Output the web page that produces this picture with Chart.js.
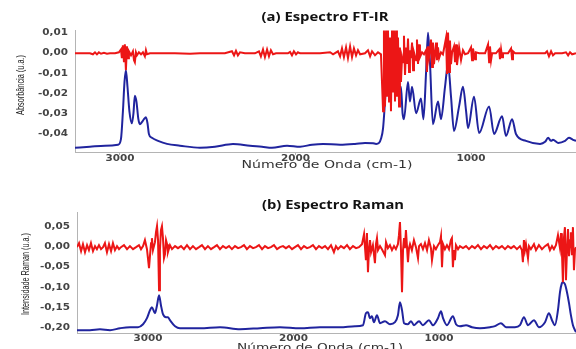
<!DOCTYPE html>
<html>
<head>
<meta charset="utf-8">
<script src="https://cdn.jsdelivr.net/npm/chart.js@4.4.0/dist/chart.umd.min.js"></script>
<style>
  body { margin: 0; background: #fff; }
  #wrap { position: relative; width: 576px; height: 349px; overflow: hidden; background: #fff; }
  #irChart { position: absolute; left: 0; top: 0; }
  #ramanChart { position: absolute; left: 0; top: 175px; }
</style>
</head>
<body>
<div id="wrap">
  <canvas id="irChart" width="576" height="175"></canvas>
  <canvas id="ramanChart" width="576" height="174"></canvas>
</div>
<script>
// tick labels
const irTicksX = [3000, 2000, 1000];
const irTicksY = [0.01, 0, -0.01, -0.02, -0.03, -0.04];
const ramanTicksX = [3000, 2000, 1000];
const ramanTicksY = [0.05, 0, -0.05, -0.10, -0.15, -0.20];

// FT-IR absorbance, [wavenumber, value]
const irAbsorbance = [
  [3256,-0.0466],[3171,-0.0461],[3085,-0.0456],[3011,-0.0451],[2994,-0.0422],[2983,-0.0286],
  [2974,-0.0141],[2966,-0.0083],[2957,-0.0165],[2946,-0.0286],[2932,-0.0345],[2923,-0.0296],
  [2915,-0.0209],[2906,-0.0238],[2895,-0.0325],[2886,-0.0350],[2875,-0.0340],[2863,-0.0325],
  [2852,-0.0316],[2843,-0.0345],[2835,-0.0398],[2818,-0.0417],[2783,-0.0432],[2732,-0.0447],
  [2658,-0.0456],[2544,-0.0466],[2459,-0.0461],[2356,-0.0447],[2259,-0.0456],[2191,-0.0461],
  [2134,-0.0466],[2048,-0.0456],[1974,-0.0461],[1906,-0.0451],[1843,-0.0447],[1746,-0.0451],
  [1661,-0.0447],[1604,-0.0442],[1558,-0.0444],[1541,-0.0447],[1524,-0.0442],[1513,-0.0422],
  [1501,-0.0369],[1490,-0.0238],[1479,-0.0092],[1467,-0.0150],[1456,-0.0053],[1444,-0.0117],
  [1433,-0.0019],[1422,-0.0131],[1410,-0.0199],[1399,-0.0165],[1390,-0.0296],[1382,-0.0325],
  [1359,-0.0141],[1348,-0.0238],[1336,-0.0165],[1313,-0.0296],[1285,-0.0223],[1271,-0.0325],
  [1256,-0.0092],[1245,0.0102],[1234,-0.0044],[1217,-0.0350],[1188,-0.0238],[1171,-0.0325],
  [1148,-0.0165],[1131,-0.0053],[1114,-0.0214],[1097,-0.0383],[1068,-0.0262],[1046,-0.0165],
  [1028,-0.0286],[1017,-0.0369],[983,-0.0214],[954,-0.0393],[897,-0.0262],[869,-0.0398],
  [823,-0.0311],[801,-0.0408],[766,-0.0325],[744,-0.0398],[687,-0.0432],[607,-0.0447],
  [578,-0.0437],[561,-0.0417],[544,-0.0432],[533,-0.0427],[504,-0.0442],[464,-0.0432],
  [442,-0.0417],[419,-0.0427],[402,-0.0432]
];

// FT-IR derivative
const irDerivative = [
  [3256,0],[3171,0],[3154,-0.0005],[3142,0.0005],[3131,-0.0005],[3120,0.0005],[3108,-0.0002],
  [3091,0.0002],[3074,-0.0002],[3057,0],[3028,0],[3006,0.0005],[2994,0.0019],[2989,-0.0024],
  [2983,0.0039],[2977,-0.0044],[2972,0.0044],[2966,-0.0083],[2960,0.0034],[2954,-0.0024],
  [2949,0.0010],[2937,-0.0010],[2926,0.0010],[2920,-0.0034],[2915,-0.0044],[2909,0.0005],
  [2903,-0.0010],[2892,0.0005],[2880,-0.0005],[2869,0.0005],[2858,-0.0015],[2852,0.0015],
  [2846,-0.0005],[2829,0],[2772,0],[2687,0],[2601,-0.0002],[2544,0],[2402,0],[2362,0.0010],
  [2350,-0.0010],[2339,0.0012],[2328,-0.0010],[2316,0.0005],[2288,0],[2231,0],[2208,0.0010],
  [2197,-0.0015],[2185,0.0019],[2174,-0.0019],[2162,0.0019],[2151,-0.0015],[2140,0.0015],
  [2128,-0.0005],[2111,0],[2043,0],[2031,0.0007],[2020,-0.0010],[2009,0.0010],[1997,-0.0005],
  [1986,0.0005],[1974,0],[1860,0],[1803,0.0005],[1786,-0.0005],[1758,0.0010],[1746,-0.0015],
  [1735,0.0024],[1724,-0.0019],[1712,0.0029],[1701,-0.0024],[1689,0.0034],[1678,-0.0019],
  [1667,0.0024],[1655,-0.0010],[1644,0.0015],[1632,-0.0005],[1604,0],[1587,0.0015],
  [1575,-0.0015],[1564,0.0010],[1547,-0.0010],[1530,0.0005],[1513,-0.0005],[1501,-0.0286],
  [1496,0.0112],[1490,-0.0262],[1484,0.0112],[1479,-0.0214],[1473,0.0112],[1467,-0.0238],
  [1462,0.0078],[1456,-0.0286],[1450,0.0112],[1444,-0.0189],[1439,0.0112],[1433,-0.0238],
  [1427,0.0112],[1422,-0.0214],[1416,0.0078],[1410,-0.0262],[1405,0.0029],[1399,-0.0141],
  [1393,-0.0019],[1387,-0.0044],[1382,0.0087],[1376,-0.0107],[1370,0.0029],[1365,-0.0053],
  [1359,0.0073],[1353,-0.0092],[1348,0.0015],[1342,-0.0024],[1336,0.0053],[1330,-0.0083],
  [1325,0.0005],[1313,-0.0034],[1308,0.0068],[1302,-0.0053],[1296,0.0044],[1291,-0.0019],
  [1279,0.0005],[1268,-0.0005],[1256,0.0015],[1251,-0.0092],[1245,0.0034],[1239,-0.0019],
  [1228,0.0068],[1222,-0.0068],[1217,0.0053],[1211,-0.0053],[1199,0.0053],[1194,-0.0034],
  [1188,0.0029],[1182,-0.0024],[1171,0.0005],[1160,-0.0005],[1142,0.0078],[1137,-0.0102],
  [1131,0.0102],[1125,-0.0092],[1120,0.0063],[1114,-0.0053],[1108,0.0005],[1097,0.0034],
  [1091,-0.0044],[1085,0.0044],[1080,-0.0058],[1068,0.0029],[1057,-0.0034],[1046,0.0015],
  [1034,-0.0005],[1017,0],[1000,0.0029],[994,-0.0034],[989,0.0024],[977,-0.0029],[972,0.0005],
  [954,0],[920,0],[903,0.0044],[897,-0.0044],[892,0.0034],[886,-0.0034],[880,0],[858,0],
  [840,0.0019],[835,-0.0029],[829,0.0019],[823,-0.0019],[818,0],[789,0],[772,0.0024],
  [766,-0.0029],[761,0.0010],[749,0],[664,0],[578,0],[567,0.0010],[556,-0.0015],[544,0.0010],
  [533,-0.0010],[521,0],[481,0],[459,0.0005],[447,-0.0010],[436,0.0005],[424,-0.0005],[402,0]
];

// Raman intensity
const ramanIntensity = [
  [3488,-0.2054],[3399,-0.2054],[3330,-0.2030],[3261,-0.2054],[3192,-0.2005],[3124,-0.1980],
  [3069,-0.1980],[3034,-0.1906],[3007,-0.1757],[2986,-0.1559],[2973,-0.1485],[2952,-0.1634],
  [2938,-0.1436],[2924,-0.1188],[2911,-0.1436],[2897,-0.1658],[2876,-0.1733],[2863,-0.1733],
  [2849,-0.1807],[2814,-0.1955],[2780,-0.2005],[2643,-0.2005],[2505,-0.1980],[2368,-0.2030],
  [2230,-0.2005],[2093,-0.1980],[1955,-0.2005],[1818,-0.1980],[1680,-0.1980],[1577,-0.1955],
  [1522,-0.1931],[1502,-0.1634],[1488,-0.1609],[1474,-0.1757],[1461,-0.1708],[1447,-0.1856],
  [1426,-0.1683],[1405,-0.1881],[1371,-0.1831],[1337,-0.1906],[1302,-0.1856],[1282,-0.1683],
  [1268,-0.1361],[1254,-0.1559],[1240,-0.1881],[1213,-0.1906],[1192,-0.1831],[1172,-0.1931],
  [1137,-0.1831],[1110,-0.1931],[1069,-0.1807],[1041,-0.1931],[1007,-0.1757],[986,-0.1584],
  [972,-0.1757],[945,-0.1931],[904,-0.1708],[883,-0.1906],[856,-0.1955],[814,-0.1931],
  [773,-0.1980],[718,-0.2005],[649,-0.1980],[615,-0.1955],[574,-0.1881],[539,-0.1980],
  [478,-0.1980],[443,-0.1931],[416,-0.1733],[388,-0.1931],[347,-0.1807],[313,-0.1980],
  [271,-0.1856],[244,-0.1634],[223,-0.1807],[203,-0.1931],[182,-0.1559],[168,-0.1114],
  [155,-0.0891],[148,-0.0866],[134,-0.0916],[120,-0.1114],[106,-0.1386],[93,-0.1683],
  [79,-0.1931],[58,-0.2104]
];

// Raman derivative
const ramanDerivative = [
  [3488,0],[3474,0.0099],[3460,-0.0099],[3447,0.0074],[3433,-0.0124],[3419,0.0050],[3406,-0.0074],
  [3392,0.0099],[3378,-0.0099],[3364,0.0025],[3351,-0.0050],[3337,0.0050],[3323,-0.0050],[3309,0],
  [3296,0.0099],[3282,-0.0124],[3268,0.0074],[3254,-0.0099],[3241,0.0099],[3227,-0.0074],
  [3213,0.0025],[3199,-0.0050],[3186,0],[3165,0.0050],[3144,-0.0050],[3124,0.0025],[3103,-0.0050],
  [3082,0],[3062,0.0050],[3048,-0.0050],[3034,0.0025],[3021,0.0173],[3007,-0.0050],[2993,-0.0520],
  [2986,-0.0198],[2979,0.0099],[2973,0.0223],[2966,-0.0074],[2952,0.0124],[2945,0.0371],
  [2938,0.0520],[2931,0.0173],[2924,-0.1064],[2918,-0.0074],[2911,0.0421],[2904,0.0520],
  [2897,0.0223],[2890,-0.0272],[2883,-0.0173],[2876,0.0173],[2869,0.0074],[2863,-0.0124],
  [2849,0.0050],[2835,-0.0050],[2814,0.0025],[2794,-0.0025],[2773,0.0025],[2753,-0.0050],
  [2732,0.0050],[2711,-0.0050],[2691,0.0025],[2670,-0.0050],[2649,0],[2629,0.0050],[2608,-0.0050],
  [2588,0.0025],[2567,-0.0050],[2546,0],[2526,0.0050],[2505,-0.0050],[2485,0.0025],[2464,-0.0025],
  [2443,0.0025],[2423,-0.0050],[2402,0.0025],[2381,-0.0025],[2361,0],[2340,0.0050],[2320,-0.0050],
  [2299,0.0025],[2278,-0.0025],[2258,0],[2237,0.0050],[2216,-0.0050],[2196,0.0025],[2175,-0.0025],
  [2155,0],[2134,0.0050],[2113,-0.0050],[2093,0],[2072,0.0025],[2052,-0.0025],[2031,0.0025],
  [2010,-0.0050],[1990,0],[1969,0.0050],[1948,-0.0050],[1928,0.0025],[1907,-0.0025],[1887,0],
  [1866,0.0050],[1845,-0.0050],[1825,0.0025],[1804,-0.0025],[1783,0.0025],[1763,-0.0050],
  [1742,0.0050],[1722,-0.0124],[1708,0.0025],[1694,-0.0050],[1674,0.0025],[1653,-0.0025],
  [1632,0.0050],[1612,-0.0050],[1591,0.0025],[1570,-0.0025],[1550,0],[1529,0.0074],[1515,0.0322],
  [1502,-0.0322],[1495,0.0347],[1488,-0.0619],[1481,-0.0074],[1474,0.0173],[1467,-0.0124],
  [1454,0.0050],[1440,-0.0396],[1433,0.0074],[1426,0.0223],[1419,-0.0074],[1405,0.0025],
  [1392,-0.0050],[1371,-0.0198],[1364,0.0124],[1351,-0.0025],[1337,0.0050],[1323,-0.0074],
  [1309,0.0025],[1296,-0.0050],[1282,0.0074],[1275,0.0297],[1268,0.0619],[1261,-0.0074],
  [1254,-0.1114],[1247,-0.0074],[1240,0.0223],[1234,-0.0025],[1227,0.0421],[1220,0.0025],
  [1213,-0.0371],[1206,-0.0025],[1199,0.0074],[1186,-0.0074],[1172,0.0173],[1158,0],
  [1144,-0.0272],[1137,0.0025],[1124,0.0074],[1110,-0.0050],[1096,0.0099],[1082,-0.0074],
  [1069,0.0173],[1055,-0.0025],[1048,-0.0322],[1034,0.0025],[1021,-0.0050],[1007,0.0050],
  [993,0.0124],[986,0.0272],[979,-0.0495],[972,0.0074],[959,-0.0050],[945,0.0050],[931,-0.0050],
  [918,0.0173],[911,0.0223],[904,-0.0495],[897,-0.0074],[890,-0.0322],[883,0.0050],[869,-0.0050],
  [856,0.0025],[835,-0.0025],[814,0.0025],[794,-0.0050],[773,0.0025],[753,-0.0025],[732,0.0050],
  [711,-0.0050],[691,0.0025],[670,-0.0025],[649,0.0050],[629,-0.0050],[608,0.0025],[588,-0.0025],
  [567,0.0025],[546,-0.0050],[526,0.0025],[505,-0.0025],[485,0.0025],[464,-0.0050],[443,0.0025],
  [430,-0.0074],[423,-0.0371],[416,0.0173],[409,-0.0074],[402,0.0074],[388,-0.0272],[381,0.0025],
  [368,-0.0050],[347,0.0074],[333,-0.0074],[313,0.0050],[292,-0.0050],[271,0.0025],[251,0.0074],
  [237,-0.0074],[223,0.0025],[210,-0.0050],[196,0.0050],[182,0.0297],[168,-0.0025],[161,0.0347],
  [155,-0.0074],[148,-0.0866],[141,0.0223],[134,0.0495],[127,-0.0817],[120,-0.0074],[113,0.0446],
  [106,-0.0223],[99,0.0173],[93,0.0371],[86,-0.0198],[79,0.0495],[72,-0.0569],[65,-0.0074],[58,0]
];

const RED = 'rgb(236, 22, 22)';
const BLUE = 'rgb(32, 36, 158)';

// draw text squeezed/stretched to a target width
function drawText(ctx, text, x, y, font, color, opts) {
    ctx.save();
    ctx.font = font;
    ctx.fillStyle = color;
    ctx.textBaseline = opts.baseline || 'alphabetic';
    ctx.textAlign = opts.align || 'center';
    let sx = opts.sx || 1;
    if (opts.width) sx = opts.width / ctx.measureText(text).width;
    ctx.translate(x, y);
    if (opts.rotate) ctx.rotate(opts.rotate);
    ctx.scale(sx, 1);
    ctx.fillText(text, 0, 0);
    ctx.restore();
}

const panelText = {
    id: 'panelText',
    afterDraw(chart, args, opts) {
        const ctx = chart.ctx;
        const area = chart.chartArea;
        const xs = chart.scales.x;
        const ys = chart.scales.y;
        const tickFont = 'bold 8px "DejaVu Sans"';

        xs.ticks.forEach(t => {
            drawText(ctx, String(t.value), xs.getPixelForValue(t.value), area.bottom + opts.xTickGap,
                tickFont, '#444', { baseline: 'middle', sx: 1.3 });
        });
        ys.ticks.forEach(t => {
            drawText(ctx, t.value.toFixed(2).replace('.', ','), area.left - 7, ys.getPixelForValue(t.value),
                tickFont, '#444', { baseline: 'middle', align: 'right', sx: 1.3 });
        });

        drawText(ctx, opts.title, opts.titleX, opts.titleY, 'bold 12px "Open Sans"', '#111', { width: opts.titleW });
        drawText(ctx, 'Número de Onda (cm-1)', opts.xTitleX, opts.xTitleY, '11px "DejaVu Sans"', '#333', { width: opts.xTitleW });
        drawText(ctx, opts.yTitle, opts.yTitleX, opts.yTitleY, '11px "Liberation Sans"', '#222',
            { width: opts.yTitleW, rotate: -Math.PI / 2, baseline: 'middle' });
    }
};

function lineSet(pairs, color, smooth) {
    return {
        data: pairs.map(p => ({ x: p[0], y: p[1] })),
        borderColor: color,
        borderWidth: 2,
        pointRadius: 0,
        fill: false,
        tension: smooth ? 0.4 : 0,
        cubicInterpolationMode: smooth ? 'monotone' : 'default'
    };
}

function panelOptions(cfg) {
    return {
        responsive: false,
        animation: false,
        events: [],
        layout: { padding: { top: cfg.top, left: 0, right: 0, bottom: 0 } },
        plugins: {
            legend: { display: false },
            tooltip: { enabled: false },
            panelText: cfg.text
        },
        scales: {
            x: {
                type: 'linear',
                reverse: true,
                min: cfg.xMin,
                max: cfg.xMax,
                afterBuildTicks: s => { s.ticks = cfg.xTicks.map(v => ({ value: v })); },
                afterFit: s => { s.height = cfg.xHeight; },
                ticks: { display: false },
                grid: { drawOnChartArea: false, tickLength: 3, color: '#b4b4b4' },
                border: { color: '#b4b4b4' }
            },
            y: {
                type: 'linear',
                min: cfg.yMin,
                max: cfg.yMax,
                afterBuildTicks: s => { s.ticks = cfg.yTicks.map(v => ({ value: v })); },
                afterFit: s => { s.width = cfg.yWidth; },
                ticks: { display: false },
                grid: { display: false },
                border: { color: '#b4b4b4' }
            }
        }
    };
}

// (a) FT-IR
new Chart(document.getElementById('irChart'), {
    type: 'line',
    data: {
        datasets: [
            lineSet(irDerivative, RED, false),
            lineSet(irAbsorbance, BLUE, true)
        ]
    },
    options: panelOptions({
        top: 30, xHeight: 23, yWidth: 75,
        xMin: 402, xMax: 3256, yMin: -0.0487, yMax: 0.0115,
        xTicks: irTicksX, yTicks: irTicksY,
        text: {
            title: '(a) Espectro FT-IR', titleX: 325, titleY: 21, titleW: 127,
            xTitleX: 327, xTitleY: 168, xTitleW: 171, xTickGap: 7,
            yTitle: 'Absorbância (u.a.)', yTitleX: 21, yTitleY: 85, yTitleW: 60
        }
    }),
    plugins: [panelText]
});

// (b) Raman
new Chart(document.getElementById('ramanChart'), {
    type: 'line',
    data: {
        datasets: [
            lineSet(ramanDerivative, RED, false),
            lineSet(ramanIntensity, BLUE, true)
        ]
    },
    options: panelOptions({
        top: 37, xHeight: 16, yWidth: 77,
        xMin: 58, xMax: 3488, yMin: -0.2124, yMax: 0.087,
        xTicks: ramanTicksX, yTicks: ramanTicksY,
        text: {
            title: '(b) Espectro Raman', titleX: 333, titleY: 34, titleW: 142,
            xTitleX: 320, xTitleY: 176, xTitleW: 166, xTickGap: 6,
            yTitle: 'Intensidade Raman (u.a.)', yTitleX: 26, yTitleY: 99, yTitleW: 82
        }
    }),
    plugins: [panelText]
});
</script>
</body>
</html>
